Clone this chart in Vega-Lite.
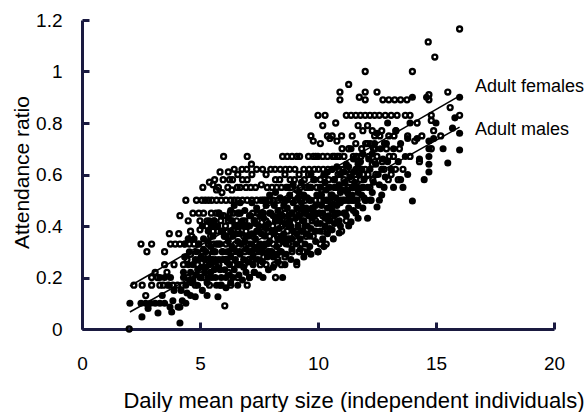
{
"$schema": "https://vega.github.io/schema/vega-lite/v6.json",
"width": 472, "height": 309,
"autosize": "none",
"padding": {"left": 82, "top": 20, "right": 32, "bottom": 83},
"background": "white",
"config": {"view": {"stroke": null}, "font": "Liberation Sans"},
"datasets": {
"f": [
{"x":2.0,"y":0.0},{"x":2.2,"y":0.17},{"x":2.5,"y":0.33},{"x":2.75,"y":0.3},{"x":2.95,"y":0.33},{"x":2.55,"y":0.17},{"x":2.95,"y":0.17},{"x":2.95,"y":0.2},{"x":2.7,"y":0.13},
{"x":3.1,"y":0.22},{"x":3.3,"y":0.17},{"x":3.5,"y":0.25},{"x":3.75,"y":0.33},{"x":3.95,"y":0.33},{"x":4.15,"y":0.33},{"x":4.35,"y":0.33},{"x":4.55,"y":0.33},{"x":4.75,"y":0.33},{"x":4.95,"y":0.33},
{"x":3.7,"y":0.37},{"x":4.1,"y":0.37},{"x":4.6,"y":0.38},{"x":4.15,"y":0.44},{"x":4.7,"y":0.45},{"x":3.45,"y":0.17},{"x":3.65,"y":0.17},{"x":3.85,"y":0.17},{"x":4.05,"y":0.17},{"x":4.25,"y":0.17},
{"x":3.2,"y":0.2},{"x":3.6,"y":0.22},{"x":3.9,"y":0.25},{"x":4.3,"y":0.25},{"x":4.5,"y":0.2},{"x":3.5,"y":0.3},
{"x":4.8,"y":0.17},{"x":5.0,"y":0.385},{"x":5.08,"y":0.5},{"x":5.4,"y":0.57},{"x":5.22,"y":0.5},{"x":5.36,"y":0.5},{"x":5.5,"y":0.5},{"x":4.9,"y":0.25},{"x":5.1,"y":0.3},{"x":5.3,"y":0.42},{"x":5.45,"y":0.36},{"x":5.2,"y":0.2},{"x":5.4,"y":0.17},{"x":5.5,"y":0.27},{"x":5.0,"y":0.42},{"x":4.6,"y":0.29},
{"x":5.55,"y":0.56},{"x":5.62,"y":0.58},{"x":5.7,"y":0.54},{"x":5.85,"y":0.61},{"x":5.93,"y":0.53},{"x":6.0,"y":0.67},{"x":6.2,"y":0.61},{"x":6.35,"y":0.54},{"x":5.7,"y":0.5},{"x":5.9,"y":0.5},{"x":6.1,"y":0.5},{"x":6.3,"y":0.5},{"x":6.45,"y":0.5},
{"x":5.6,"y":0.42},{"x":5.8,"y":0.45},{"x":6.0,"y":0.44},{"x":6.2,"y":0.42},{"x":6.4,"y":0.45},{"x":5.7,"y":0.33},{"x":5.9,"y":0.38},{"x":6.1,"y":0.33},{"x":6.3,"y":0.36},{"x":6.05,"y":0.09},{"x":5.9,"y":0.17},{"x":6.3,"y":0.17},{"x":5.8,"y":0.25},{"x":6.1,"y":0.27},{"x":6.4,"y":0.25},{"x":5.6,"y":0.3},{"x":6.4,"y":0.3},
{"x":7.0,"y":0.67},{"x":6.6,"y":0.6},{"x":6.8,"y":0.58},{"x":7.0,"y":0.58},{"x":7.2,"y":0.6},{"x":7.4,"y":0.62},{"x":6.6,"y":0.5},{"x":6.8,"y":0.5},{"x":7.0,"y":0.5},{"x":7.2,"y":0.5},{"x":7.4,"y":0.5},
{"x":6.7,"y":0.45},{"x":6.9,"y":0.42},{"x":7.1,"y":0.44},{"x":7.3,"y":0.42},{"x":6.6,"y":0.38},{"x":6.85,"y":0.36},{"x":7.05,"y":0.33},{"x":7.25,"y":0.36},{"x":7.45,"y":0.38},{"x":7.0,"y":0.17},{"x":6.7,"y":0.25},{"x":7.2,"y":0.27},{"x":7.4,"y":0.3},{"x":6.9,"y":0.3},{"x":7.3,"y":0.22},{"x":6.6,"y":0.2},
{"x":7.6,"y":0.56},{"x":7.8,"y":0.6},{"x":8.0,"y":0.62},{"x":8.2,"y":0.58},{"x":8.4,"y":0.62},{"x":8.5,"y":0.67},{"x":7.7,"y":0.5},{"x":7.9,"y":0.5},{"x":8.1,"y":0.5},{"x":8.3,"y":0.5},{"x":8.5,"y":0.5},
{"x":7.6,"y":0.45},{"x":7.8,"y":0.42},{"x":8.0,"y":0.45},{"x":8.2,"y":0.42},{"x":8.4,"y":0.46},{"x":7.7,"y":0.38},{"x":7.95,"y":0.36},{"x":8.15,"y":0.38},{"x":8.35,"y":0.33},{"x":7.6,"y":0.3},{"x":8.0,"y":0.3},{"x":8.3,"y":0.27},{"x":7.8,"y":0.25},{"x":8.45,"y":0.25},
{"x":8.7,"y":0.67},{"x":8.9,"y":0.67},{"x":9.1,"y":0.67},{"x":8.6,"y":0.6},{"x":8.8,"y":0.62},{"x":9.0,"y":0.58},{"x":9.2,"y":0.6},{"x":9.4,"y":0.62},{"x":8.7,"y":0.55},{"x":8.9,"y":0.5},{"x":9.1,"y":0.54},{"x":9.3,"y":0.5},{"x":9.5,"y":0.55},
{"x":8.6,"y":0.45},{"x":8.8,"y":0.42},{"x":9.0,"y":0.45},{"x":9.2,"y":0.44},{"x":9.4,"y":0.42},{"x":8.7,"y":0.38},{"x":9.0,"y":0.36},{"x":9.3,"y":0.33},{"x":8.9,"y":0.3},{"x":9.4,"y":0.3},{"x":9.1,"y":0.25},
{"x":9.8,"y":0.73},{"x":10.0,"y":0.83},{"x":10.2,"y":0.79},{"x":10.4,"y":0.75},{"x":10.5,"y":0.74},{"x":9.6,"y":0.67},{"x":9.8,"y":0.67},{"x":10.0,"y":0.67},{"x":10.2,"y":0.67},{"x":10.4,"y":0.67},
{"x":9.6,"y":0.6},{"x":9.85,"y":0.62},{"x":10.1,"y":0.58},{"x":10.3,"y":0.6},{"x":9.7,"y":0.55},{"x":9.9,"y":0.5},{"x":10.15,"y":0.54},{"x":10.4,"y":0.5},{"x":9.6,"y":0.45},{"x":9.9,"y":0.42},{"x":10.2,"y":0.44},{"x":10.45,"y":0.42},{"x":9.8,"y":0.36},{"x":10.1,"y":0.33},{"x":10.4,"y":0.38},{"x":10.0,"y":0.3},
{"x":10.93,"y":0.92},{"x":10.93,"y":0.89},{"x":11.3,"y":0.95},{"x":10.6,"y":0.75},{"x":10.8,"y":0.73},{"x":11.0,"y":0.75},{"x":11.2,"y":0.83},{"x":11.4,"y":0.83},{"x":10.7,"y":0.67},{"x":10.9,"y":0.67},{"x":11.1,"y":0.67},{"x":11.3,"y":0.7},{"x":11.5,"y":0.67},
{"x":10.6,"y":0.62},{"x":10.85,"y":0.6},{"x":11.1,"y":0.58},{"x":11.35,"y":0.6},{"x":10.7,"y":0.55},{"x":11.0,"y":0.5},{"x":11.25,"y":0.53},{"x":11.5,"y":0.5},{"x":10.8,"y":0.45},{"x":11.2,"y":0.42},{"x":11.0,"y":0.38},
{"x":12.0,"y":1.0},{"x":12.0,"y":0.92},{"x":12.0,"y":0.89},{"x":12.5,"y":0.92},{"x":11.6,"y":0.83},{"x":11.8,"y":0.83},{"x":12.0,"y":0.83},{"x":12.2,"y":0.83},{"x":12.4,"y":0.83},{"x":11.7,"y":0.79},{"x":11.9,"y":0.77},{"x":12.1,"y":0.79},{"x":12.3,"y":0.77},
{"x":11.6,"y":0.72},{"x":11.85,"y":0.7},{"x":12.1,"y":0.72},{"x":12.35,"y":0.7},{"x":11.7,"y":0.65},{"x":12.0,"y":0.62},{"x":12.3,"y":0.64},{"x":11.8,"y":0.58},{"x":12.2,"y":0.55},{"x":12.45,"y":0.6},{"x":12.0,"y":0.5},
{"x":12.75,"y":0.89},{"x":13.0,"y":0.89},{"x":13.25,"y":0.89},{"x":13.5,"y":0.89},{"x":12.6,"y":0.83},{"x":12.85,"y":0.83},{"x":13.1,"y":0.83},{"x":13.35,"y":0.83},{"x":12.7,"y":0.77},{"x":13.0,"y":0.75},{"x":13.3,"y":0.77},{"x":12.9,"y":0.7},{"x":13.2,"y":0.67},{"x":13.45,"y":0.7},{"x":12.8,"y":0.62},{"x":13.1,"y":0.6},{"x":13.4,"y":0.58},
{"x":13.77,"y":0.89},{"x":14.0,"y":1.0},{"x":13.7,"y":0.83},{"x":13.9,"y":0.83},{"x":14.2,"y":0.8},{"x":13.8,"y":0.75},{"x":14.1,"y":0.73},{"x":14.4,"y":0.75},{"x":13.9,"y":0.67},{"x":14.3,"y":0.65},{"x":13.6,"y":0.62},
{"x":14.67,"y":1.115},{"x":14.95,"y":1.056},{"x":16.0,"y":1.165},{"x":14.7,"y":0.89},{"x":14.7,"y":0.91},{"x":14.8,"y":0.83},{"x":14.8,"y":0.81},{"x":14.9,"y":0.77},{"x":15.5,"y":0.92},{"x":15.6,"y":0.86},{"x":16.0,"y":0.83},{"x":14.8,"y":0.7},{"x":15.2,"y":0.75},
{"x":5.15,"y":0.45},{"x":5.35,"y":0.33},{"x":5.55,"y":0.38},{"x":5.25,"y":0.25},{"x":5.05,"y":0.2},{"x":4.85,"y":0.5},{"x":4.5,"y":0.42},{"x":4.4,"y":0.5},
{"x":5.75,"y":0.38},{"x":5.95,"y":0.3},{"x":6.15,"y":0.38},{"x":6.35,"y":0.42},{"x":6.25,"y":0.58},{"x":6.45,"y":0.62},{"x":5.65,"y":0.25},{"x":6.5,"y":0.33},{"x":6.2,"y":0.22},
{"x":6.7,"y":0.55},{"x":6.95,"y":0.55},{"x":7.15,"y":0.55},{"x":7.35,"y":0.55},{"x":6.75,"y":0.33},{"x":6.95,"y":0.38},{"x":7.15,"y":0.3},{"x":7.45,"y":0.45},{"x":6.55,"y":0.42},{"x":7.1,"y":0.2},
{"x":7.65,"y":0.62},{"x":7.85,"y":0.55},{"x":8.05,"y":0.55},{"x":8.25,"y":0.55},{"x":8.45,"y":0.55},{"x":7.75,"y":0.33},{"x":8.1,"y":0.33},{"x":8.3,"y":0.42},{"x":7.55,"y":0.25},{"x":8.2,"y":0.2},
{"x":8.65,"y":0.5},{"x":8.85,"y":0.55},{"x":9.05,"y":0.5},{"x":9.25,"y":0.55},{"x":9.45,"y":0.5},{"x":8.75,"y":0.33},{"x":9.15,"y":0.42},{"x":9.35,"y":0.38},{"x":8.6,"y":0.28},{"x":9.5,"y":0.36},
{"x":9.65,"y":0.5},{"x":9.95,"y":0.55},{"x":10.25,"y":0.5},{"x":10.45,"y":0.58},{"x":9.75,"y":0.42},{"x":10.05,"y":0.45},{"x":10.35,"y":0.33},{"x":9.7,"y":0.75},{"x":10.1,"y":0.72},{"x":10.3,"y":0.83},
{"x":10.6,"y":0.5},{"x":10.8,"y":0.55},{"x":11.05,"y":0.62},{"x":11.3,"y":0.55},{"x":11.45,"y":0.75},{"x":10.65,"y":0.42},{"x":10.9,"y":0.5},{"x":11.15,"y":0.45},{"x":11.4,"y":0.5},{"x":10.75,"y":0.8},
{"x":11.6,"y":0.6},{"x":11.85,"y":0.62},{"x":12.15,"y":0.67},{"x":12.4,"y":0.65},{"x":11.65,"y":0.5},{"x":11.9,"y":0.55},{"x":12.25,"y":0.5},{"x":12.4,"y":0.75},{"x":11.75,"y":0.9},
{"x":4.65,"y":0.36},{"x":4.45,"y":0.27},{"x":4.95,"y":0.45},{"x":5.12,"y":0.55},{"x":5.28,"y":0.4},{"x":5.48,"y":0.45},{"x":5.32,"y":0.29},{"x":5.58,"y":0.33},
{"x":5.78,"y":0.55},{"x":5.98,"y":0.58},{"x":6.18,"y":0.55},{"x":6.38,"y":0.58},{"x":5.68,"y":0.45},{"x":5.88,"y":0.42},{"x":6.08,"y":0.4},{"x":6.28,"y":0.45},{"x":6.48,"y":0.4},{"x":5.83,"y":0.33},{"x":6.03,"y":0.36},{"x":6.23,"y":0.3},
{"x":6.58,"y":0.55},{"x":6.78,"y":0.62},{"x":6.98,"y":0.62},{"x":7.18,"y":0.64},{"x":6.63,"y":0.45},{"x":6.83,"y":0.4},{"x":7.03,"y":0.4},{"x":7.23,"y":0.45},{"x":7.43,"y":0.42},{"x":6.68,"y":0.3},{"x":6.88,"y":0.25},{"x":7.08,"y":0.27},{"x":7.38,"y":0.33},
{"x":7.58,"y":0.5},{"x":7.78,"y":0.5},{"x":7.98,"y":0.5},{"x":8.18,"y":0.62},{"x":8.38,"y":0.58},{"x":7.68,"y":0.45},{"x":7.88,"y":0.38},{"x":8.08,"y":0.4},{"x":8.28,"y":0.36},{"x":8.48,"y":0.4},{"x":7.7,"y":0.28},{"x":7.9,"y":0.3},{"x":8.15,"y":0.25},{"x":8.4,"y":0.3},
{"x":8.62,"y":0.62},{"x":8.82,"y":0.58},{"x":9.02,"y":0.62},{"x":9.22,"y":0.67},{"x":9.42,"y":0.58},{"x":8.68,"y":0.42},{"x":8.88,"y":0.45},{"x":9.08,"y":0.38},{"x":9.28,"y":0.45},{"x":9.48,"y":0.45},{"x":8.8,"y":0.35},{"x":9.2,"y":0.3},
{"x":9.62,"y":0.62},{"x":9.82,"y":0.58},{"x":10.02,"y":0.62},{"x":10.22,"y":0.62},{"x":10.42,"y":0.62},{"x":9.68,"y":0.55},{"x":9.88,"y":0.45},{"x":10.08,"y":0.5},{"x":10.28,"y":0.55},{"x":9.72,"y":0.38},{"x":10.22,"y":0.38},{"x":9.9,"y":0.67},
{"x":10.62,"y":0.67},{"x":10.82,"y":0.67},{"x":11.02,"y":0.7},{"x":11.22,"y":0.62},{"x":11.42,"y":0.58},{"x":10.68,"y":0.58},{"x":10.88,"y":0.62},{"x":11.08,"y":0.55},{"x":11.28,"y":0.5},{"x":11.48,"y":0.55},{"x":10.7,"y":0.5},{"x":11.1,"y":0.5},
{"x":11.62,"y":0.67},{"x":11.82,"y":0.67},{"x":12.02,"y":0.72},{"x":12.22,"y":0.72},{"x":12.42,"y":0.7},{"x":11.68,"y":0.55},{"x":11.92,"y":0.6},{"x":12.12,"y":0.6},{"x":12.32,"y":0.58},{"x":12.5,"y":0.67},
{"x":12.62,"y":0.75},{"x":12.82,"y":0.72},{"x":13.02,"y":0.67},{"x":13.22,"y":0.75},{"x":12.72,"y":0.65},{"x":12.98,"y":0.58},{"x":13.28,"y":0.62}
],
"m": [
{"x":2.03,"y":0.1},{"x":2.54,"y":0.047},{"x":2.5,"y":0.1},{"x":2.7,"y":0.1},{"x":2.9,"y":0.1},{"x":2.8,"y":0.08},
{"x":3.1,"y":0.1},{"x":3.3,"y":0.1},{"x":3.5,"y":0.1},{"x":3.22,"y":0.062},{"x":3.8,"y":0.066},{"x":3.3,"y":0.2},{"x":3.5,"y":0.2},{"x":3.4,"y":0.13},{"x":3.7,"y":0.17},{"x":3.9,"y":0.15},{"x":3.75,"y":0.2},{"x":3.73,"y":0.085},{"x":4.07,"y":0.085},{"x":3.85,"y":0.11},
{"x":4.15,"y":0.023},{"x":4.15,"y":0.085},{"x":4.8,"y":0.125},{"x":4.2,"y":0.15},{"x":4.3,"y":0.2},{"x":4.4,"y":0.17},{"x":4.5,"y":0.25},{"x":4.6,"y":0.22},{"x":4.7,"y":0.19},{"x":4.9,"y":0.17},{"x":4.35,"y":0.28},{"x":4.55,"y":0.3},{"x":4.8,"y":0.27},{"x":4.95,"y":0.33},{"x":4.25,"y":0.11},{"x":4.6,"y":0.13},{"x":4.9,"y":0.23},{"x":4.75,"y":0.35},
{"x":5.76,"y":0.125},{"x":5.1,"y":0.15},{"x":5.3,"y":0.18},{"x":5.5,"y":0.2},{"x":5.7,"y":0.17},{"x":5.9,"y":0.2},{"x":5.2,"y":0.22},{"x":5.4,"y":0.25},{"x":5.6,"y":0.23},{"x":5.8,"y":0.27},{"x":5.05,"y":0.28},{"x":5.25,"y":0.3},{"x":5.45,"y":0.32},{"x":5.65,"y":0.3},{"x":5.85,"y":0.33},{"x":5.15,"y":0.35},{"x":5.35,"y":0.38},{"x":5.55,"y":0.36},{"x":5.75,"y":0.4},{"x":5.95,"y":0.38},{"x":5.3,"y":0.13},{"x":5.6,"y":0.42},{"x":5.9,"y":0.44},
{"x":6.4,"y":0.2},{"x":6.1,"y":0.16},{"x":6.3,"y":0.18},{"x":6.6,"y":0.17},{"x":6.8,"y":0.19},{"x":6.05,"y":0.23},{"x":6.25,"y":0.25},{"x":6.45,"y":0.23},{"x":6.65,"y":0.25},{"x":6.85,"y":0.27},{"x":6.15,"y":0.3},{"x":6.35,"y":0.32},{"x":6.55,"y":0.3},{"x":6.75,"y":0.33},{"x":6.95,"y":0.31},{"x":6.1,"y":0.36},{"x":6.3,"y":0.38},{"x":6.5,"y":0.4},{"x":6.7,"y":0.37},{"x":6.9,"y":0.4},{"x":6.2,"y":0.43},{"x":6.6,"y":0.45},{"x":6.95,"y":0.22},
{"x":7.67,"y":0.2},{"x":7.1,"y":0.2},{"x":7.3,"y":0.22},{"x":7.5,"y":0.21},{"x":7.9,"y":0.23},{"x":7.05,"y":0.26},{"x":7.25,"y":0.28},{"x":7.45,"y":0.27},{"x":7.65,"y":0.3},{"x":7.85,"y":0.28},{"x":7.15,"y":0.33},{"x":7.35,"y":0.35},{"x":7.55,"y":0.33},{"x":7.75,"y":0.36},{"x":7.95,"y":0.34},{"x":7.1,"y":0.4},{"x":7.3,"y":0.42},{"x":7.5,"y":0.4},{"x":7.7,"y":0.43},{"x":7.9,"y":0.41},{"x":7.4,"y":0.47},{"x":7.8,"y":0.48},
{"x":8.5,"y":0.2},{"x":8.1,"y":0.24},{"x":8.3,"y":0.26},{"x":8.6,"y":0.25},{"x":8.85,"y":0.27},{"x":8.05,"y":0.3},{"x":8.25,"y":0.32},{"x":8.45,"y":0.3},{"x":8.65,"y":0.33},{"x":8.9,"y":0.31},{"x":8.15,"y":0.37},{"x":8.35,"y":0.39},{"x":8.55,"y":0.37},{"x":8.75,"y":0.4},{"x":8.95,"y":0.38},{"x":8.1,"y":0.44},{"x":8.3,"y":0.46},{"x":8.5,"y":0.44},{"x":8.7,"y":0.47},{"x":8.9,"y":0.45},{"x":8.4,"y":0.51},{"x":8.8,"y":0.52},
{"x":9.1,"y":0.26},{"x":9.4,"y":0.28},{"x":9.7,"y":0.29},{"x":9.05,"y":0.33},{"x":9.25,"y":0.35},{"x":9.45,"y":0.33},{"x":9.65,"y":0.36},{"x":9.9,"y":0.34},{"x":9.15,"y":0.4},{"x":9.35,"y":0.42},{"x":9.55,"y":0.4},{"x":9.75,"y":0.43},{"x":9.95,"y":0.41},{"x":9.1,"y":0.47},{"x":9.3,"y":0.49},{"x":9.5,"y":0.47},{"x":9.7,"y":0.5},{"x":9.9,"y":0.48},{"x":9.2,"y":0.53},{"x":9.6,"y":0.55},{"x":9.85,"y":0.58},
{"x":10.0,"y":0.3},{"x":10.6,"y":0.385},{"x":10.9,"y":0.373},{"x":10.95,"y":0.4},{"x":10.2,"y":0.35},{"x":10.4,"y":0.37},{"x":10.1,"y":0.41},{"x":10.3,"y":0.43},{"x":10.5,"y":0.42},{"x":10.7,"y":0.44},{"x":10.15,"y":0.48},{"x":10.35,"y":0.5},{"x":10.55,"y":0.48},{"x":10.75,"y":0.51},{"x":10.95,"y":0.49},{"x":10.1,"y":0.55},{"x":10.3,"y":0.57},{"x":10.5,"y":0.55},{"x":10.7,"y":0.58},{"x":10.9,"y":0.56},{"x":10.4,"y":0.61},{"x":10.8,"y":0.63},
{"x":11.4,"y":0.416},{"x":11.2,"y":0.44},{"x":11.6,"y":0.45},{"x":11.9,"y":0.47},{"x":11.1,"y":0.5},{"x":11.3,"y":0.52},{"x":11.5,"y":0.5},{"x":11.7,"y":0.53},{"x":11.95,"y":0.51},{"x":11.15,"y":0.57},{"x":11.35,"y":0.59},{"x":11.55,"y":0.57},{"x":11.75,"y":0.6},{"x":11.95,"y":0.58},{"x":11.2,"y":0.64},{"x":11.5,"y":0.66},{"x":11.8,"y":0.65},{"x":11.4,"y":0.7},
{"x":12.1,"y":0.43},{"x":12.5,"y":0.474},{"x":12.2,"y":0.5},{"x":12.7,"y":0.52},{"x":12.1,"y":0.55},{"x":12.35,"y":0.57},{"x":12.6,"y":0.56},{"x":12.85,"y":0.59},{"x":12.2,"y":0.62},{"x":12.45,"y":0.64},{"x":12.7,"y":0.62},{"x":12.95,"y":0.65},{"x":12.3,"y":0.68},{"x":12.65,"y":0.7},{"x":12.9,"y":0.72},{"x":12.5,"y":0.76},
{"x":14.0,"y":0.497},{"x":13.2,"y":0.55},{"x":13.5,"y":0.58},{"x":13.8,"y":0.6},{"x":13.1,"y":0.62},{"x":13.4,"y":0.65},{"x":13.7,"y":0.67},{"x":13.2,"y":0.7},{"x":13.5,"y":0.72},{"x":13.8,"y":0.74},{"x":13.3,"y":0.77},{"x":13.9,"y":0.8},{"x":13.6,"y":0.55},
{"x":14.0,"y":0.9},{"x":14.6,"y":0.9},{"x":16.0,"y":0.9},{"x":16.0,"y":0.695},{"x":15.5,"y":0.645},{"x":15.7,"y":0.78},{"x":14.9,"y":0.74},{"x":14.2,"y":0.74},{"x":14.7,"y":0.61},{"x":14.7,"y":0.64},{"x":14.7,"y":0.67},{"x":14.7,"y":0.7},{"x":14.7,"y":0.73},{"x":14.3,"y":0.66},{"x":14.5,"y":0.58},{"x":15.0,"y":0.8},{"x":15.3,"y":0.7},{"x":16.0,"y":0.76},{"x":15.8,"y":0.82},
{"x":4.4,"y":0.1},{"x":4.65,"y":0.18},{"x":4.85,"y":0.3},{"x":4.5,"y":0.35},{"x":5.0,"y":0.2},{"x":4.3,"y":0.22},
{"x":5.2,"y":0.27},{"x":5.45,"y":0.22},{"x":5.65,"y":0.27},{"x":5.85,"y":0.23},{"x":5.35,"y":0.2},{"x":5.55,"y":0.3},{"x":5.75,"y":0.33},{"x":5.95,"y":0.3},{"x":5.5,"y":0.4},{"x":5.1,"y":0.4},
{"x":6.1,"y":0.2},{"x":6.3,"y":0.28},{"x":6.5,"y":0.27},{"x":6.7,"y":0.29},{"x":6.9,"y":0.34},{"x":6.2,"y":0.34},{"x":6.4,"y":0.36},{"x":6.6,"y":0.34},{"x":6.8,"y":0.42},{"x":6.45,"y":0.48},
{"x":7.1,"y":0.3},{"x":7.3,"y":0.31},{"x":7.5,"y":0.3},{"x":7.7,"y":0.32},{"x":7.9,"y":0.3},{"x":7.2,"y":0.37},{"x":7.4,"y":0.38},{"x":7.6,"y":0.37},{"x":7.8,"y":0.39},{"x":7.6,"y":0.45},
{"x":8.1,"y":0.28},{"x":8.3,"y":0.35},{"x":8.5,"y":0.34},{"x":8.7,"y":0.35},{"x":8.9,"y":0.35},{"x":8.2,"y":0.42},{"x":8.4,"y":0.42},{"x":8.6,"y":0.41},{"x":8.8,"y":0.42},{"x":8.6,"y":0.5},
{"x":9.1,"y":0.37},{"x":9.3,"y":0.38},{"x":9.5,"y":0.37},{"x":9.7,"y":0.39},{"x":9.9,"y":0.38},{"x":9.2,"y":0.44},{"x":9.4,"y":0.45},{"x":9.6,"y":0.44},{"x":9.8,"y":0.46},{"x":9.4,"y":0.52},
{"x":10.1,"y":0.38},{"x":10.3,"y":0.4},{"x":10.5,"y":0.39},{"x":10.7,"y":0.41},{"x":10.9,"y":0.42},{"x":10.2,"y":0.45},{"x":10.4,"y":0.47},{"x":10.6,"y":0.46},{"x":10.8,"y":0.48},{"x":10.6,"y":0.52},
{"x":11.1,"y":0.45},{"x":11.3,"y":0.47},{"x":11.5,"y":0.46},{"x":11.7,"y":0.48},{"x":11.9,"y":0.55},{"x":11.25,"y":0.54},{"x":11.45,"y":0.55},{"x":11.65,"y":0.55},{"x":11.85,"y":0.62},{"x":11.6,"y":0.62},
{"x":4.45,"y":0.14},{"x":4.7,"y":0.25},{"x":4.55,"y":0.19},{"x":4.95,"y":0.27},{"x":4.82,"y":0.21},{"x":4.35,"y":0.33},
{"x":5.05,"y":0.24},{"x":5.25,"y":0.24},{"x":5.45,"y":0.27},{"x":5.65,"y":0.2},{"x":5.85,"y":0.17},{"x":5.15,"y":0.31},{"x":5.35,"y":0.34},{"x":5.55,"y":0.26},{"x":5.75,"y":0.24},{"x":5.95,"y":0.27},{"x":5.4,"y":0.42},{"x":5.8,"y":0.45},
{"x":6.05,"y":0.27},{"x":6.25,"y":0.21},{"x":6.45,"y":0.31},{"x":6.65,"y":0.21},{"x":6.85,"y":0.24},{"x":6.15,"y":0.26},{"x":6.35,"y":0.42},{"x":6.55,"y":0.37},{"x":6.75,"y":0.4},{"x":6.95,"y":0.36},{"x":6.3,"y":0.46},{"x":6.7,"y":0.49},{"x":6.9,"y":0.46},
{"x":7.05,"y":0.36},{"x":7.25,"y":0.25},{"x":7.45,"y":0.32},{"x":7.65,"y":0.26},{"x":7.85,"y":0.33},{"x":7.15,"y":0.44},{"x":7.35,"y":0.41},{"x":7.55,"y":0.44},{"x":7.75,"y":0.4},{"x":7.95,"y":0.45},{"x":7.2,"y":0.49},{"x":7.65,"y":0.5},{"x":7.95,"y":0.52},
{"x":8.05,"y":0.38},{"x":8.25,"y":0.29},{"x":8.45,"y":0.36},{"x":8.65,"y":0.29},{"x":8.85,"y":0.4},{"x":8.15,"y":0.48},{"x":8.35,"y":0.44},{"x":8.55,"y":0.48},{"x":8.75,"y":0.44},{"x":8.95,"y":0.49},{"x":8.2,"y":0.53},{"x":8.65,"y":0.55},{"x":8.95,"y":0.56},
{"x":9.05,"y":0.43},{"x":9.25,"y":0.31},{"x":9.45,"y":0.4},{"x":9.65,"y":0.32},{"x":9.85,"y":0.44},{"x":9.15,"y":0.51},{"x":9.35,"y":0.47},{"x":9.55,"y":0.51},{"x":9.75,"y":0.47},{"x":9.95,"y":0.52},{"x":9.3,"y":0.57},{"x":9.7,"y":0.6},{"x":9.55,"y":0.3},
{"x":10.05,"y":0.45},{"x":10.25,"y":0.32},{"x":10.45,"y":0.44},{"x":10.65,"y":0.35},{"x":10.85,"y":0.45},{"x":10.15,"y":0.52},{"x":10.35,"y":0.54},{"x":10.55,"y":0.52},{"x":10.75,"y":0.55},{"x":10.95,"y":0.53},{"x":10.25,"y":0.6},{"x":10.6,"y":0.62},{"x":10.95,"y":0.6},
{"x":11.05,"y":0.54},{"x":11.25,"y":0.5},{"x":11.45,"y":0.52},{"x":11.65,"y":0.5},{"x":11.85,"y":0.52},{"x":11.1,"y":0.61},{"x":11.3,"y":0.63},{"x":11.5,"y":0.61},{"x":11.7,"y":0.64},{"x":11.9,"y":0.68},{"x":11.3,"y":0.4},{"x":11.7,"y":0.43},
{"x":12.05,"y":0.5},{"x":12.3,"y":0.53},{"x":12.55,"y":0.6},{"x":12.8,"y":0.55},{"x":12.15,"y":0.66},{"x":12.4,"y":0.72},{"x":12.75,"y":0.66},{"x":12.95,"y":0.8},{"x":12.6,"y":0.5}
],
"fit": [{"x":2.03,"y":0.167,"g":"F"},{"x":16.0,"y":0.905,"g":"F"},{"x":2.03,"y":0.066,"g":"M"},{"x":16.0,"y":0.784,"g":"M"}],
"lab": [{"x":16.65,"y":0.92,"t":"Adult females"},{"x":16.65,"y":0.753,"t":"Adult males"}]
},
"encoding": {
"x": {"field": "x", "type": "quantitative", "scale": {"domain": [0, 20], "nice": false},
 "axis": {"title": "Daily mean party size (independent individuals)", "values": [0, 5, 10, 15, 20], "grid": false,
 "domain": true, "ticks": true,
 "tickSize": -7, "tickColor": "#1a1a40", "tickWidth": 3,
 "domainColor": "#1a1a40", "domainWidth": 3,
 "labelFontSize": 19, "labelColor": "black", "labelPadding": 32, "labelFlush": false, "labelFont": "Liberation Sans",
 "titleFont": "Liberation Sans", "titleFontSize": 22, "titleFontWeight": "normal", "titleColor": "black",
 "titleX": 271.5, "titleY": 78, "titleAlign": "center", "titleBaseline": "alphabetic"}},
"y": {"field": "y", "type": "quantitative", "scale": {"domain": [0, 1.2], "nice": false},
 "axis": {"title": "Attendance ratio", "values": [0, 0.2, 0.4, 0.6, 0.8, 1, 1.2], "format": "~g", "grid": false,
 "domain": true, "ticks": true,
 "tickSize": -7, "tickColor": "#1a1a40", "tickWidth": 3,
 "domainColor": "#1a1a40", "domainWidth": 3,
 "labelFontSize": 19, "labelColor": "black", "labelPadding": 27, "labelFlush": false, "labelFont": "Liberation Sans",
 "titleFont": "Liberation Sans", "titleFontSize": 21, "titleFontWeight": "normal", "titleColor": "black",
 "titleX": -54, "titleY": 152, "titleAlign": "center", "titleBaseline": "alphabetic", "titleAngle": -90}}
},
"layer": [
{"data": {"name": "m"}, "mark": {"type": "circle", "color": "black", "size": 50, "opacity": 1}},
{"data": {"name": "f"}, "mark": {"type": "circle", "fill": "transparent", "stroke": "black", "strokeWidth": 2.4, "size": 24, "opacity": 1}},
{"data": {"name": "fit"}, "mark": {"type": "line", "color": "black", "strokeWidth": 1.5}, "encoding": {"detail": {"field": "g"}}},
{"data": {"name": "lab"}, "mark": {"type": "text", "align": "left", "baseline": "alphabetic", "fontSize": 18, "font": "Liberation Sans", "color": "black"}, "encoding": {"text": {"field": "t"}}}
]
}
